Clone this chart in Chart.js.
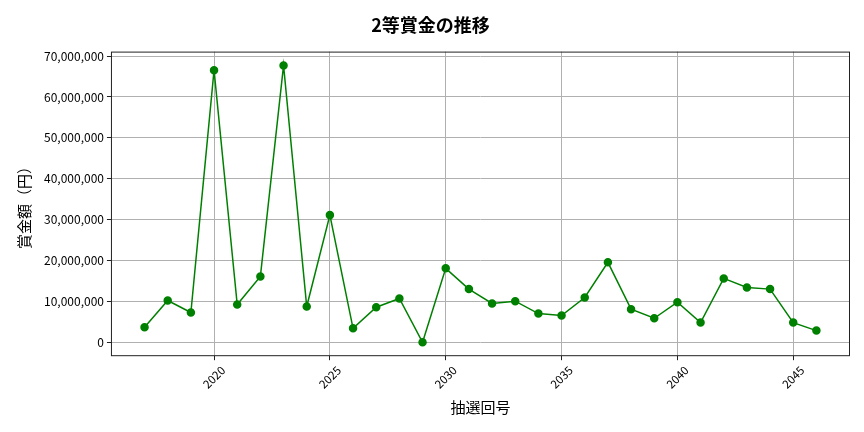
<!DOCTYPE html>
<html>
<head>
<meta charset="utf-8">
<script src="https://cdn.jsdelivr.net/npm/chart.js@4"></script>
<style>
  body { margin: 0; background: #fff; }
  #chart { display: block; }
</style>
</head>
<body>
<canvas id="chart" width="864" height="432"></canvas>
<script>
// 抽選回号と2等賞金
const years = [2017, 2018, 2019, 2020, 2021, 2022, 2023, 2024, 2025, 2026,
               2027, 2028, 2029, 2030, 2031, 2032, 2033, 2034, 2035, 2036,
               2037, 2038, 2039, 2040, 2041, 2042, 2043, 2044, 2045, 2046];
const prizes = [3680000, 10230000, 7290000, 66560000, 9250000, 16130000, 67710000, 8760000, 31110000, 3440000,
                8600000, 10730000, 0, 18090000, 13020000, 9500000, 10070000, 7040000, 6550000, 10970000,
                19570000, 8110000, 5890000, 9820000, 4830000, 15640000, 13430000, 13020000, 4830000, 2870000];
const xTicks = [2020, 2025, 2030, 2035, 2040, 2045];
const yTicks = [0, 10000000, 20000000, 30000000, 40000000, 50000000, 60000000, 70000000];

const font = '"Noto Sans CJK JP", "Noto Sans", sans-serif';

// matplotlib風の5%余白
const xPad = (Math.max(...years) - Math.min(...years)) * 0.05;
const yPad = (Math.max(...prizes) - Math.min(...prizes)) * 0.05;

const frame = {
    id: 'frame',
    afterDraw(chart) {
        const a = chart.chartArea;
        const ctx = chart.ctx;
        ctx.save();
        ctx.strokeStyle = '#222';
        ctx.lineWidth = 1;
        ctx.strokeRect(a.left + 0.5, a.top + 0.5, a.right - a.left - 1, a.bottom - a.top - 1);
        ctx.restore();
    }
};

new Chart(document.getElementById('chart'), {
    type: 'line',
    data: {
        datasets: [{
            data: years.map((y, i) => ({ x: y, y: prizes[i] })),
            borderColor: '#008000',
            backgroundColor: '#008000',
            borderWidth: 1.5,
            pointRadius: 3.5,
            pointHoverRadius: 3.5,
            tension: 0
        }]
    },
    options: {
        responsive: false,
        animation: false,
        devicePixelRatio: 1,
        layout: { padding: { left: 11, right: 14, top: 4, bottom: 12 } },
        plugins: {
            legend: { display: false },
            tooltip: { enabled: false },
            title: {
                display: true,
                text: '2等賞金の推移',
                color: '#000',
                font: { family: font, size: 18, weight: 'bold' },
                padding: { top: 10, bottom: 16 }
            }
        },
        scales: {
            x: {
                type: 'linear',
                min: Math.min(...years) - xPad,
                max: Math.max(...years) + xPad,
                afterBuildTicks: s => { s.ticks = xTicks.map(v => ({ value: v })); },
                ticks: {
                    minRotation: 45,
                    maxRotation: 45,
                    labelOffset: 9,
                    color: '#000',
                    font: { family: font, size: 11.5 },
                    callback: v => String(v)
                },
                grid: { color: '#b0b0b0', tickColor: '#222', tickLength: 4 },
                border: { display: false },
                title: {
                    display: true,
                    text: '抽選回号',
                    color: '#000',
                    font: { family: font, size: 15 },
                    padding: { top: 4 }
                }
            },
            y: {
                type: 'linear',
                min: Math.min(...prizes) - yPad,
                max: Math.max(...prizes) + yPad,
                afterBuildTicks: s => { s.ticks = yTicks.map(v => ({ value: v })); },
                ticks: {
                    color: '#000',
                    font: { family: font, size: 12 },
                    callback: v => v.toLocaleString('en-US')
                },
                grid: { color: '#b0b0b0', tickColor: '#222', tickLength: 4 },
                border: { display: false },
                title: {
                    display: true,
                    text: '賞金額（円）',
                    color: '#000',
                    font: { family: font, size: 15 },
                    padding: { bottom: 8 }
                }
            }
        }
    },
    plugins: [frame]
});
</script>
</body>
</html>
